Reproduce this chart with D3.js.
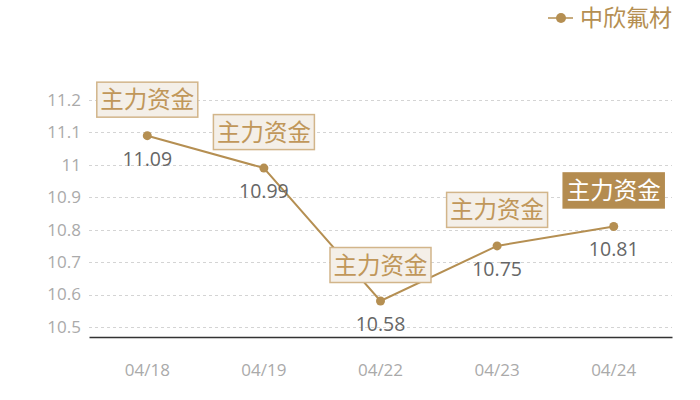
<!DOCTYPE html>
<html><head><meta charset="utf-8">
<script src="https://cdn.jsdelivr.net/npm/d3@7"></script>
<style>body{margin:0;background:#fff}svg{display:block}text{font-family:"Noto Sans CJK SC","Noto Sans",sans-serif}</style>
</head><body><svg id="c" width="700" height="400"></svg>
<script>
const categories = ["04/18","04/19","04/22","04/23","04/24"];
const values = [11.09, 10.99, 10.58, 10.75, 10.81];
const yTicks = [10.5,10.6,10.7,10.8,10.9,11,11.1,11.2];
const annotations = ["主力资金","主力资金","主力资金","主力资金","主力资金"];
const highlighted = [false,false,false,false,true];
const seriesName = "中欣氟材";

const svg = d3.select("#c");
const M = {l:89, r:672, t:100, b:337};
const x = d3.scaleBand().domain(categories).range([M.l, M.r]);
const y = d3.scaleLinear().domain([10.469, 11.2]).range([M.b, M.t]);
const gold = "#b58f52";
const numFont = "'Open Sans','Noto Sans',sans-serif";

// grid
svg.append("g").selectAll("line").data(yTicks).join("line")
  .attr("x1", M.l).attr("x2", M.r)
  .attr("y1", d=>Math.round(y(d))+0.5).attr("y2", d=>Math.round(y(d))+0.5)
  .attr("stroke","#d4d4d4").attr("stroke-dasharray","3,3");

// y axis labels
const ya = svg.append("g").attr("transform",`translate(${M.l},0)`)
  .call(d3.axisLeft(y).tickValues(yTicks).tickSize(0).tickPadding(8).tickFormat(d=>String(d)));
ya.select(".domain").remove();
ya.selectAll("text").attr("fill","#aaaaaa").style("font-size","17px").style("font-family",numFont);

// x axis
const xa = svg.append("g").attr("transform",`translate(0,${M.b})`)
  .call(d3.axisBottom(x).tickSize(0).tickPadding(27));
xa.select(".domain").attr("stroke","#333").attr("stroke-width",1.3);
xa.selectAll("text").attr("fill","#aaaaaa").style("font-size","17px").style("font-family",numFont);

const cx = d => x(d) + x.bandwidth()/2;
const data = categories.map((c,i)=>({c, v:values[i], a:annotations[i], h:highlighted[i]}));

// line
svg.append("path").datum(data)
  .attr("d", d3.line().x(d=>cx(d.c)).y(d=>y(d.v)))
  .attr("fill","none").attr("stroke",gold).attr("stroke-width",2);

svg.append("g").selectAll("circle").data(data).join("circle")
  .attr("cx", d=>cx(d.c)).attr("cy", d=>y(d.v)).attr("r",4.5).attr("fill",gold);

// value labels
svg.append("g").selectAll("text").data(data).join("text")
  .attr("x", d=>cx(d.c)).attr("y", d=>y(d.v)+30)
  .attr("text-anchor","middle").attr("fill","#666")
  .style("font-size","19.5px").style("font-family",numFont)
  .text(d=>d3.format(".2f")(d.v));

// annotation boxes
const bw = 102, bh = 36;
const ag = svg.append("g").selectAll("g").data(data).join("g")
  .attr("transform", d=>`translate(${cx(d.c)-bw/2},${y(d.v)-18-bh})`);
ag.append("rect").attr("x",0.5).attr("y",0.5).attr("width",bw-1).attr("height",bh-1)
  .attr("fill", d=>d.h?"#b48c50":"#f4efe8")
  .attr("stroke", d=>d.h?"#b48c50":"#d2b58a").attr("stroke-width",1.5);
ag.append("text").attr("x",bw/2).attr("y",bh/2+8.5).attr("text-anchor","middle")
  .attr("fill", d=>d.h?"#fff":"#c0975a").style("font-size","23.5px")
  .text(d=>d.a);

// legend
const lg = svg.append("g").attr("transform","translate(548,18)");
lg.append("line").attr("x1",0).attr("x2",25).attr("y1",0).attr("y2",0).attr("stroke",gold).attr("stroke-width",1.5);
lg.append("circle").attr("cx",13).attr("cy",0).attr("r",5).attr("fill",gold);
lg.append("text").attr("x",32).attr("y",8).attr("fill",gold).style("font-size","23px").text(seriesName);
</script></body></html>
